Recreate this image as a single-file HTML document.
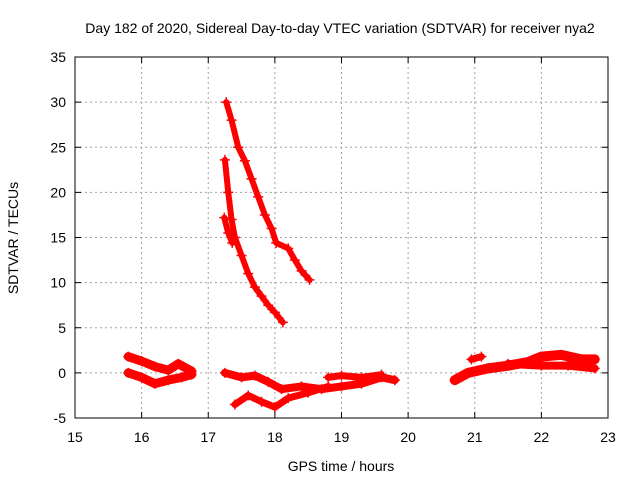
<!DOCTYPE html>
<html><head><meta charset="utf-8"><style>
body{margin:0;background:#fff;font-family:"Liberation Sans",sans-serif}
svg text{font-family:"Liberation Sans",sans-serif;font-size:14px;fill:#000}
</style></head><body>
<svg id="c" width="640" height="480"></svg>
<script>
const xTicks=[15,16,17,18,19,20,21,22,23];
const yTicks=[-5,0,5,10,15,20,25,30,35];
const trackA_t=[17.27,17.35,17.45,17.55,17.65,17.75,17.85,17.95,18.02,18.2,18.3,18.4,18.52];
const trackA_v=[30,28,25,23.5,21.5,19.5,17.5,16,14.4,13.8,12.5,11.3,10.3];
const trackB_t=[17.25,17.3,17.35,17.4,17.5,17.6,17.7,17.8,17.9,18.0,18.12];
const trackB_v=[23.6,20,17,15,13,11,9.5,8.5,7.5,6.7,5.6];
const trackC_t=[17.24,17.3,17.36];
const trackC_v=[17.2,15.5,14.4];
const band1a_t=[15.8,16.0,16.2,16.4,16.55,16.75];
const band1a_v=[1.8,1.3,0.7,0.3,1.0,0.2];
const band1b_t=[15.8,16.0,16.2,16.4,16.6,16.75];
const band1b_v=[0,-0.5,-1.2,-0.8,-0.5,-0.2];
const band2a_t=[17.25,17.5,17.7,17.9,18.1,18.4,18.7,19.0,19.3,19.6,19.8];
const band2a_v=[0,-0.5,-0.3,-1,-1.8,-1.5,-1.8,-1.5,-1.2,-0.5,-0.8];
const band2b_t=[18.8,19.0,19.3,19.6];
const band2b_v=[-0.5,-0.3,-0.5,-0.2];
const band2c_t=[17.4,17.6,17.8,18.0,18.2,18.5,18.8];
const band2c_v=[-3.5,-2.5,-3.2,-3.8,-2.8,-2.2,-1.5];
const band3a_t=[20.7,20.9,21.2,21.5,21.8,22.0,22.3,22.6,22.8];
const band3a_v=[-0.8,0,0.5,0.8,1.2,1.8,2,1.5,1.5];
const band3b_t=[21.5,22.0,22.4,22.8];
const band3b_v=[1,0.8,0.8,0.5];
const band3c_t=[20.95,21.1];
const band3c_v=[1.5,1.8];

const L=75,R=608,T=57,B=418;
const X=t=>L+(t-15)/(23-15)*(R-L);
const Y=v=>B-(v+5)/40*(B-T);
const svg=document.getElementById('c');
const NS='http://www.w3.org/2000/svg';
function mk(tag,a,parent){const e=document.createElementNS(NS,tag);for(const k in a)e.setAttribute(k,a[k]);(parent||svg).appendChild(e);return e;}

xTicks.forEach((t,i)=>{if(i>0&&i<xTicks.length-1){const g=mk('line',{x1:X(t),x2:X(t),y1:T,y2:B,stroke:'#a0a0a0','stroke-dasharray':'2,3'});

}
const tk=mk('text',{x:X(t),y:B+24,'text-anchor':'middle'});tk.textContent=t;


mk('line',{x1:X(t),x2:X(t),y1:B,y2:B-6,stroke:'#000'});mk('line',{x1:X(t),x2:X(t),y1:T,y2:T+6,stroke:'#000'});});
yTicks.forEach((v,i)=>{if(i>0&&i<yTicks.length-1){const g=mk('line',{x1:L,x2:R,y1:Y(v),y2:Y(v),stroke:'#a0a0a0','stroke-dasharray':'2,3'});

}
const tk=mk('text',{x:L-9,y:Y(v)+5,'text-anchor':'end'});tk.textContent=v;


mk('line',{x1:L,x2:L+6,y1:Y(v),y2:Y(v),stroke:'#000'});mk('line',{x1:R,x2:R-6,y1:Y(v),y2:Y(v),stroke:'#000'});});
const fr=mk('rect',{x:L,y:T,width:R-L,height:B-T,fill:'none',stroke:'#000'});



function series(ts,vs,w,name){
  const g=mk('g',{});
  
  
  mk('polyline',{points:ts.map((t,i)=>X(t)+','+Y(vs[i])).join(' '),fill:'none',stroke:'#f00','stroke-width':w,'stroke-linejoin':'round','stroke-linecap':'round'},g);
  ts.forEach((t,i)=>{const x=X(t),y=Y(vs[i]);
    mk('path',{d:`M${x-5},${y}h10M${x},${y-5}v10`,stroke:'#f00','stroke-width':1.5},g);});
}
series(trackA_t,trackA_v,6,'track-a');
series(trackB_t,trackB_v,6,'track-b');
series(trackC_t,trackC_v,6,'track-c');
series(band1a_t,band1a_v,9,'band-1-upper');
series(band1b_t,band1b_v,9,'band-1-lower');
series(band2a_t,band2a_v,8,'band-2-upper');
series(band2b_t,band2b_v,7,'band-2-mid');
series(band2c_t,band2c_v,7,'band-2-lower');
series(band3a_t,band3a_v,10,'band-3-upper');
series(band3b_t,band3b_v,8,'band-3-lower');
series(band3c_t,band3c_v,7,'band-3-small');

const ti=mk('text',{x:340,y:33,'text-anchor':'middle'});ti.textContent='Day 182 of 2020, Sidereal Day-to-day VTEC variation (SDTVAR) for receiver nya2';


const xl=mk('text',{x:341,y:471,'text-anchor':'middle'});xl.textContent='GPS time / hours';


const yl=mk('text',{x:18,y:238,'text-anchor':'middle',transform:'rotate(-90 18 238)'});yl.textContent='SDTVAR / TECUs';


</script>
</body></html>
